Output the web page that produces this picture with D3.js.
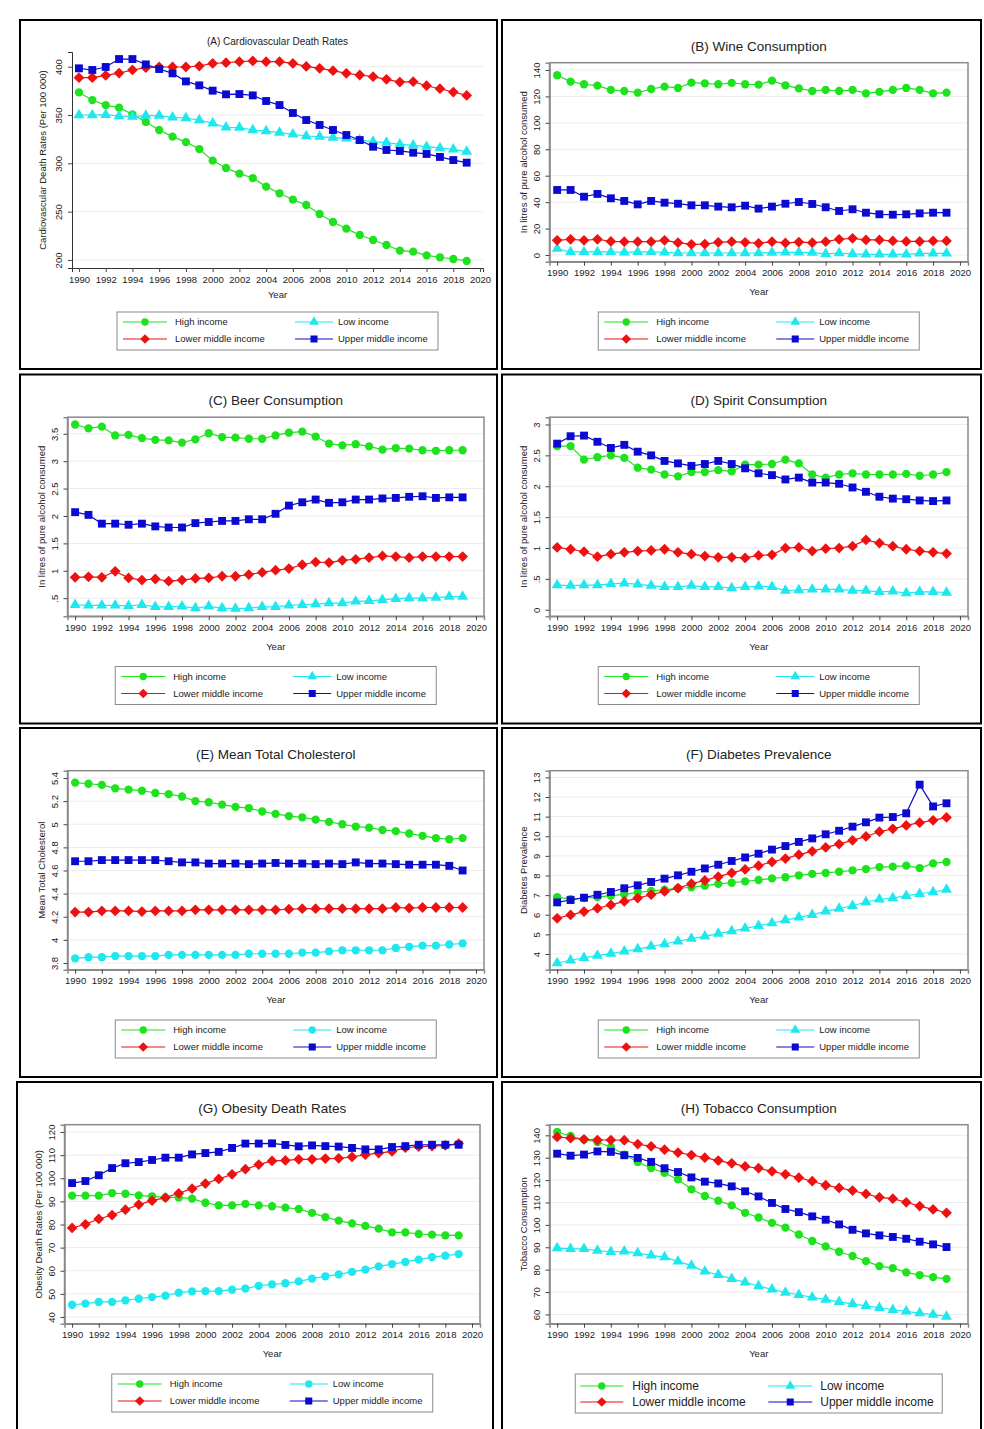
<!DOCTYPE html>
<html>
<head>
<meta charset="utf-8">
<script src="https://cdn.jsdelivr.net/npm/d3@7"></script>
<style>
  body { margin: 0; background: #fff; }
  svg { display: block; }
  text { font-family: "Liberation Sans", Arial, Helvetica, sans-serif; fill: #222; }
</style>
</head>
<body>
<svg id="chart" width="984" height="1429"></svg>
<script>
// ---- Shared categories and tick labels ----
const years = [1990,1991,1992,1993,1994,1995,1996,1997,1998,1999,2000,2001,2002,2003,2004,
               2005,2006,2007,2008,2009,2010,2011,2012,2013,2014,2015,2016,2017,2018,2019];
const yearTicks = [1990,1992,1994,1996,1998,2000,2002,2004,2006,2008,2010,2012,2014,2016,2018,2020];
const groupNames = ["High income", "Low income", "Lower middle income", "Upper middle income"];

// ---- (A) Cardiovascular death rates ----
const cardioHigh = [373.4,365.5,360.3,357.6,350.7,342.8,334.5,327.6,322,314.8,302.8,295.2,289.3,284.8,275.9,269,262.4,256.9,247.6,239.3,232.4,225.9,220.7,215.5,209.7,208.6,204.8,202.8,201,199];
const cardioLow = [350,350,350.3,349,348.3,349.3,349.3,347.6,346.9,344.8,341.4,337.2,336.9,334.5,333.4,331.7,330,328.3,327.6,326.6,325.9,324.1,322.4,321.4,319.7,318.6,317.2,315.9,314.5,312.1];
const cardioLowerMid = [388.6,388.6,391,393.4,396.6,399,399.7,399.7,399.7,400.7,403.4,404.1,405.2,405.9,405.2,405.2,403.4,400.3,398.3,395.9,393.1,391.4,389.7,386.9,384.1,384.5,380.3,377.2,373.8,370.3];
const cardioUpperMid = [398.3,396.6,399.7,407.9,407.9,402.4,397.6,393.1,384.8,380.7,375.2,371.4,371.7,370.3,364.5,360.3,352.1,344.8,339.7,334.5,329.3,324.1,317.2,313.8,312.8,311,309.7,306.6,303.4,300.7];
const cardioTicks = [200,250,300,350,400];

// ---- (B) Wine consumption ----
const wineHigh = [136,131.2,129.2,128.2,124.9,124.1,122.9,125.6,127.4,126.4,130.4,129.9,129.2,130.2,129.2,128.9,131.9,128.4,126.1,124.1,124.9,124.1,124.9,122.3,123.4,124.9,126.4,124.9,122.3,122.9];
const wineLow = [4.8,2.3,2.3,2.3,2.3,2,2.3,2.3,2,1.5,1.5,1.5,1.5,1.5,1.5,1.5,1.8,2,2,1.8,0.8,1.5,0.8,0.5,0.5,0.5,0.5,1.3,1.3,1.3];
const wineLowerMid = [11.1,11.9,11.1,11.9,10.3,10.1,10.1,10.1,11.1,9.3,8.1,8.3,9.6,10.1,9.6,8.8,10.1,9.1,9.8,9.3,10.1,11.9,12.6,11.4,11.4,10.6,10.3,10.3,10.6,10.6];
const wineUpperMid = [49.2,49.2,44.1,46.2,42.9,40.9,38.3,40.9,39.6,38.8,37.6,37.6,36.6,36.1,37.3,35.1,36.6,38.8,40.1,38.6,36.1,33.3,34.6,32,30.8,30.5,30.8,31.5,32,32];
const wineTicks = [0,20,40,60,80,100,120,140];

// ---- (C) Beer consumption ----
const beerHigh = [3.67,3.60,3.63,3.47,3.48,3.42,3.39,3.38,3.34,3.40,3.51,3.44,3.43,3.41,3.41,3.47,3.52,3.54,3.45,3.32,3.29,3.31,3.27,3.21,3.24,3.23,3.20,3.19,3.20,3.20];
const beerLow = [0.38,0.37,0.37,0.37,0.36,0.38,0.34,0.34,0.35,0.32,0.35,0.32,0.31,0.32,0.34,0.34,0.37,0.38,0.39,0.41,0.41,0.44,0.45,0.47,0.49,0.50,0.50,0.51,0.53,0.53];
const beerLowerMid = [0.88,0.89,0.88,0.99,0.87,0.83,0.85,0.81,0.83,0.86,0.87,0.90,0.90,0.93,0.97,1.01,1.04,1.11,1.16,1.15,1.19,1.21,1.24,1.27,1.26,1.24,1.26,1.26,1.26,1.26];
const beerUpperMid = [2.07,2.02,1.86,1.86,1.84,1.86,1.81,1.79,1.79,1.87,1.89,1.91,1.91,1.94,1.94,2.04,2.19,2.25,2.30,2.24,2.25,2.30,2.30,2.32,2.33,2.35,2.36,2.33,2.34,2.34];
const beerTicks = [0.5,1,1.5,2,2.5,3,3.5];

// ---- (D) Spirit consumption ----
const spiritHigh = [2.65,2.65,2.43,2.47,2.50,2.46,2.30,2.27,2.19,2.16,2.23,2.23,2.26,2.24,2.35,2.35,2.36,2.43,2.37,2.19,2.14,2.19,2.21,2.19,2.19,2.19,2.20,2.17,2.19,2.23];
const spiritLow = [0.40,0.39,0.40,0.40,0.42,0.43,0.41,0.39,0.37,0.37,0.39,0.37,0.37,0.35,0.37,0.38,0.37,0.31,0.32,0.33,0.33,0.33,0.31,0.31,0.29,0.30,0.27,0.29,0.29,0.28];
const spiritLowerMid = [1.01,0.98,0.94,0.86,0.90,0.93,0.95,0.96,0.98,0.93,0.90,0.87,0.85,0.85,0.84,0.88,0.89,1.00,1.01,0.95,0.99,1.00,1.03,1.13,1.08,1.03,0.98,0.95,0.93,0.91];
const spiritUpperMid = [2.69,2.81,2.82,2.72,2.62,2.67,2.56,2.50,2.41,2.37,2.33,2.36,2.41,2.36,2.29,2.21,2.18,2.11,2.14,2.06,2.06,2.04,1.98,1.91,1.83,1.80,1.79,1.77,1.76,1.77];
const spiritTicks = [0,0.5,1,1.5,2,2.5,3];

// ---- (E) Mean total cholesterol ----
const cholHigh = [5.36,5.35,5.34,5.31,5.30,5.29,5.27,5.26,5.24,5.20,5.19,5.17,5.15,5.14,5.11,5.09,5.07,5.06,5.04,5.02,5.00,4.98,4.97,4.95,4.94,4.92,4.90,4.88,4.87,4.88];
const cholLow = [3.84,3.85,3.85,3.86,3.86,3.86,3.86,3.87,3.87,3.87,3.87,3.87,3.87,3.88,3.88,3.88,3.88,3.89,3.89,3.90,3.91,3.91,3.91,3.91,3.93,3.94,3.95,3.95,3.96,3.97];
const cholLowerMid = [4.24,4.24,4.25,4.25,4.25,4.245,4.25,4.25,4.25,4.26,4.26,4.26,4.26,4.26,4.26,4.26,4.265,4.27,4.27,4.27,4.27,4.27,4.27,4.27,4.28,4.275,4.28,4.28,4.28,4.28];
const cholUpperMid = [4.68,4.68,4.69,4.69,4.69,4.69,4.69,4.68,4.67,4.67,4.66,4.66,4.66,4.655,4.66,4.665,4.66,4.66,4.655,4.66,4.655,4.67,4.66,4.66,4.655,4.65,4.65,4.65,4.64,4.60];
const cholTicks = [3.8,4,4.2,4.4,4.6,4.8,5,5.2,5.4];

// ---- (F) Diabetes prevalence ----
const diabHigh = [6.90,6.80,6.85,6.90,6.97,7.04,7.14,7.21,7.28,7.35,7.40,7.48,7.57,7.63,7.70,7.77,7.85,7.91,8.01,8.08,8.13,8.19,8.26,8.33,8.43,8.45,8.50,8.38,8.62,8.69];
const diabLow = [3.54,3.68,3.80,3.92,4.02,4.14,4.25,4.39,4.51,4.65,4.78,4.90,5.04,5.17,5.31,5.44,5.58,5.73,5.87,6.00,6.17,6.31,6.46,6.65,6.79,6.85,6.97,7.07,7.16,7.28];
const diabLowerMid = [5.82,5.99,6.16,6.33,6.50,6.68,6.85,7.02,7.19,7.36,7.58,7.75,7.94,8.13,8.31,8.50,8.69,8.86,9.06,9.23,9.43,9.60,9.79,9.99,10.23,10.38,10.55,10.69,10.81,10.96];
const diabUpperMid = [6.63,6.75,6.87,7.02,7.16,7.35,7.50,7.67,7.84,8.01,8.19,8.36,8.55,8.74,8.92,9.11,9.32,9.50,9.71,9.89,10.10,10.28,10.49,10.71,10.95,10.98,11.17,12.63,11.52,11.68];
const diabTicks = [4,5,6,7,8,9,10,11,12,13];

// ---- (G) Obesity death rates ----
const obesHigh = [92.5,92.5,92.5,93.6,93.3,92.6,92.2,91.7,91.7,91.2,89.4,88.3,88.3,88.9,88.3,87.9,87.3,86.7,85.0,83.2,81.7,80.5,79.4,78.2,76.6,76.6,75.9,75.6,75.3,75.3];
const obesLow = [45.3,45.8,46.5,46.5,47.2,47.9,48.6,49.2,50.5,51.1,51.2,51.2,51.8,52.3,53.5,54.1,54.6,55.4,56.6,57.6,58.4,59.5,60.5,61.9,62.9,63.8,64.8,65.9,66.5,67.2];
const obesLowerMid = [78.5,80.1,82.4,84.1,86.4,88.6,90.3,91.6,93.5,95.5,97.7,99.7,101.7,103.9,105.9,107.5,107.7,108.2,108.2,108.5,108.6,109.2,110.2,110.9,111.6,113.2,113.7,113.9,114.2,115.0];
const obesUpperMid = [97.9,98.8,101.3,104.4,106.5,107.0,107.9,108.9,108.9,110.3,110.9,111.4,113.1,115.0,115.0,115.1,114.4,113.8,114.2,113.9,113.7,113.1,112.5,112.5,113.5,113.9,114.5,114.5,114.5,114.5];
const obesTicks = [40,50,60,70,80,90,100,110,120];

// ---- (H) Tobacco consumption ----
const tobHigh = [141.5,139.7,138.1,137.0,134.8,131.4,128.1,125.4,123.2,120.3,115.9,112.9,110.8,108.7,105.4,103.3,100.9,98.8,95.7,92.8,90.4,88.0,86.1,83.8,81.6,80.7,78.8,77.6,76.7,75.9];
const tobLow = [89.6,89.3,89.3,88.5,88.0,88.2,87.4,86.4,85.6,83.7,81.8,79.2,77.7,75.9,74.3,72.7,71.2,69.8,68.8,67.6,66.6,65.6,64.7,63.8,63.0,62.1,61.4,60.6,59.9,59.1];
const tobLowerMid = [139.3,138.7,138.2,137.9,137.9,137.8,136.1,135.1,133.6,132.3,131.2,130.0,128.7,127.5,126.1,125.3,123.9,122.6,121.1,119.5,117.7,116.5,115.3,113.8,112.3,111.7,110.1,108.4,106.9,105.4];
const tobUpperMid = [131.8,130.9,131.4,132.8,132.6,131.1,129.9,128.1,125.3,123.6,121.2,119.3,118.5,117.2,115.0,112.7,109.8,107.1,105.7,103.8,102.3,100.2,97.8,96.2,95.3,94.6,93.8,92.5,91.3,90.1];
const tobTicks = [60,70,80,90,100,110,120,130,140];

// ---- Styling for the four income groups ----
const colors = { high: "#1ee21e", low: "#1ee8ee", lower: "#ee1111", upper: "#0a0ad0" };

// Square rotated by 45 degrees, as used for the lower-middle-income markers
const diamondSymbol = {
  draw(ctx, size) {
    const r = Math.sqrt(size / 2);
    ctx.moveTo(0, -r); ctx.lineTo(r, 0); ctx.lineTo(0, r); ctx.lineTo(-r, 0); ctx.closePath();
  }
};
const symbolSize = { circle: 54, square: 62, diamond: 58, triangle: 52 };
const symbolType = { circle: d3.symbolCircle, square: d3.symbolSquare, diamond: diamondSymbol, triangle: d3.symbolTriangle };

const fmtDec = v => { const s = String(v); return s.startsWith("0.") ? s.slice(1) : s; };

// ---- Panel definitions ----
const panels = [
  { title: "(A) Cardiovascular Death Rates", ylab: "Cardiovascular Death Rates (Per 100 000)",
    box: [20, 20, 477], open: true, dom: [191.7, 415.2], ticks: cardioTicks, lowShape: "triangle",
    series: [cardioHigh, cardioLow, cardioLowerMid, cardioUpperMid] },
  { title: "(B) Wine Consumption", ylab: "In litres of pure alcohol consumed",
    box: [502, 20, 479], dom: [-5.07, 145.5], ticks: wineTicks, lowShape: "triangle",
    series: [wineHigh, wineLow, wineLowerMid, wineUpperMid] },
  { title: "(C) Beer Consumption", ylab: "In litres of pure alcohol consumed",
    box: [20, 374.5, 477], dom: [0.171, 3.803], ticks: beerTicks, lowShape: "triangle",
    series: [beerHigh, beerLow, beerLowerMid, beerUpperMid] },
  { title: "(D) Spirit Consumption", ylab: "In litres of pure alcohol consumed",
    box: [502, 374.5, 479], dom: [-0.104, 3.118], ticks: spiritTicks, lowShape: "triangle",
    series: [spiritHigh, spiritLow, spiritLowerMid, spiritUpperMid] },
  { title: "(E) Mean Total Cholesterol", ylab: "Mean Total Cholesterol",
    box: [20, 728, 477], dom: [3.742, 5.463], ticks: cholTicks, lowShape: "circle",
    series: [cholHigh, cholLow, cholLowerMid, cholUpperMid] },
  { title: "(F) Diabetes Prevalence", ylab: "Diabetes Prevalence",
    box: [502, 728, 479], dom: [3.2, 13.34], ticks: diabTicks, lowShape: "triangle",
    series: [diabHigh, diabLow, diabLowerMid, diabUpperMid] },
  { title: "(G) Obesity Death Rates", ylab: "Obesity Death Rates (Per 100 000)",
    box: [17, 1082, 476], dom: [37.1, 123.16], ticks: obesTicks, lowShape: "circle",
    series: [obesHigh, obesLow, obesLowerMid, obesUpperMid] },
  { title: "(H) Tobacco Consumption", ylab: "Tobacco Consumption",
    box: [502, 1082, 479], dom: [55.87, 144.74], ticks: tobTicks, lowShape: "triangle", bigLegend: true,
    series: [tobHigh, tobLow, tobLowerMid, tobUpperMid] }
];

const svg = d3.select("#chart");
svg.append("rect").attr("width", 984).attr("height", 1429).attr("fill", "#fff");

panels.forEach(p => {
  const [bx, by, bw] = p.box;
  const g = svg.append("g");

  // outer panel border
  g.append("rect").attr("x", bx).attr("y", by).attr("width", bw).attr("height", 349)
    .attr("fill", "#fff").attr("stroke", "#000").attr("stroke-width", 2);

  let L, R, T, B, xDom;
  if (p.open) { L = bx + 52; R = bx + bw - 14; T = by + 32; B = by + 248; xDom = [1989.48, 2020.22]; }
  else { L = bx + 47.5; R = bx + bw - 13; T = by + 42.7; B = by + 241.7; xDom = [1989.43, 2020.6]; }

  const x = d3.scaleLinear().domain(xDom).range([L, R]);
  const y = d3.scaleLinear().domain(p.dom).range([B, T]);
  const cx = (L + R) / 2;

  // title
  g.append("text").attr("x", cx).attr("y", by + (p.open ? 21 : 26)).attr("dy", "0.35em")
    .attr("text-anchor", "middle").style("font-size", p.open ? "10px" : "13.5px").text(p.title);

  // horizontal grid lines
  g.append("g").selectAll("line").data(p.ticks).join("line")
    .attr("x1", L).attr("x2", R).attr("y1", d => y(d)).attr("y2", d => y(d))
    .attr("stroke", "#ececec").attr("stroke-width", 1);

  // plot frame or open axes
  if (!p.open) {
    g.append("rect").attr("x", L).attr("y", T).attr("width", R - L).attr("height", B - T)
      .attr("fill", "none").attr("stroke", "#8a8a8a").attr("stroke-width", 1.5);
  }

  // y axis
  const yAxis = d3.axisLeft(y).tickValues(p.ticks).tickSize(4).tickPadding(3).tickFormat(fmtDec);
  const ya = g.append("g").attr("transform", `translate(${L},0)`).call(yAxis);
  ya.select(".domain").attr("stroke", p.open ? "#333" : "#8a8a8a").attr("stroke-width", p.open ? 1 : 1.5);
  ya.selectAll(".tick line").attr("stroke", "#444");
  ya.selectAll(".tick text")
    .attr("x", null).attr("dy", null)
    .attr("transform", "translate(-13,0) rotate(-90)")
    .attr("text-anchor", "middle").attr("dy", "0.35em")
    .style("font-size", "9.5px").style("font-family", "Liberation Sans, Arial, sans-serif").attr("fill", "#222");

  // x axis
  const xAxis = d3.axisBottom(x).tickValues(yearTicks).tickSize(4).tickPadding(4).tickFormat(d3.format("d"));
  const xa = g.append("g").attr("transform", `translate(0,${B})`).call(xAxis);
  xa.select(".domain").attr("stroke", p.open ? "#333" : "#8a8a8a").attr("stroke-width", p.open ? 1 : 1.5);
  xa.selectAll(".tick line").attr("stroke", "#444");
  xa.selectAll(".tick text").style("font-size", "9.5px")
    .style("font-family", "Liberation Sans, Arial, sans-serif").attr("fill", "#222");

  // axis titles
  g.append("text").attr("x", cx).attr("y", B + (p.open ? 27 : 30)).attr("dy", "0.35em")
    .attr("text-anchor", "middle").style("font-size", "9.5px").text("Year");
  g.append("text").attr("transform", `translate(${L - (p.open ? 29 : 26)},${(T + B) / 2}) rotate(-90)`)
    .attr("dy", "0.35em").attr("text-anchor", "middle").style("font-size", "9.5px").text(p.ylab);

  // series: high, low, lower middle, upper middle
  const shapes = ["circle", p.lowShape, "diamond", "square"];
  const cols = [colors.high, colors.low, colors.lower, colors.upper];
  const line = d3.line().x((d, i) => x(years[i])).y(d => y(d));
  p.series.forEach((vals, k) => {
    g.append("path").datum(vals).attr("d", line).attr("fill", "none")
      .attr("stroke", cols[k]).attr("stroke-width", 1.2);
    g.append("g").selectAll("path").data(vals).join("path")
      .attr("transform", (d, i) => `translate(${x(years[i])},${y(d)})`)
      .attr("d", d3.symbol().type(symbolType[shapes[k]]).size(symbolSize[shapes[k]])())
      .attr("fill", cols[k]);
  });

  // legend: two columns, two rows
  const big = !!p.bigLegend;
  const lw = big ? 367 : 321, lh = big ? 39 : 38;
  const lx = cx - lw / 2, ly = by + 292;
  const lg = g.append("g").attr("transform", `translate(${lx},${ly})`);
  lg.append("rect").attr("width", lw).attr("height", lh).attr("fill", "#fff")
    .attr("stroke", "#8a8a8a").attr("stroke-width", 1);
  const colX = big ? [5, 193] : [6, 178];
  const lineLen = big ? [43, 44] : [44, 38];
  const txtX = big ? [57, 245] : [58, 221];
  const rowY = big ? [12, 28] : [10, 27];
  groupNames.forEach((name, k) => {
    const c = k % 2, r = Math.floor(k / 2);
    const gx = colX[c], gy = rowY[r], len = lineLen[c];
    lg.append("line").attr("x1", gx).attr("x2", gx + len).attr("y1", gy).attr("y2", gy)
      .attr("stroke", cols[k]).attr("stroke-width", 1.2);
    lg.append("path").attr("transform", `translate(${gx + len / 2},${gy})`)
      .attr("d", d3.symbol().type(symbolType[shapes[k]]).size(symbolSize[shapes[k]] * 0.8)())
      .attr("fill", cols[k]);
    lg.append("text").attr("x", txtX[c]).attr("y", gy).attr("dy", "0.35em")
      .style("font-size", big ? "12px" : "9.5px").text(name);
  });
});
</script>
</body>
</html>
